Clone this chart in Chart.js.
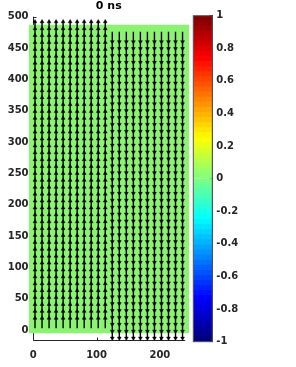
<!DOCTYPE html>
<html><head><meta charset="utf-8">
<script src="https://cdn.jsdelivr.net/npm/chart.js@4.4.0/dist/chart.umd.min.js"></script>
<style>
html,body{margin:0;padding:0;background:#fff;}
#wrap{position:relative;width:296px;height:367px;overflow:hidden;}
canvas{position:absolute;left:0;top:0;}
</style></head><body>
<div id="wrap"><canvas id="main" width="296" height="367"></canvas><canvas id="cbar" width="296" height="367"></canvas></div>
<script>
// ---- data ----
const titleText = '0 ns';
const xCols = [2.7, 13.8, 24.9, 36.0, 47.1, 58.2, 69.3, 80.4, 91.5, 102.6, 113.7,
               124.8, 135.9, 147.0, 158.1, 169.2, 180.3, 191.4, 202.5, 213.6, 224.7, 235.8];
const yRows = [3, 14, 25, 36, 47, 58, 69, 80, 91, 102, 113, 124, 135, 146, 157, 168, 179, 190,
               201, 212, 223, 234, 245, 256, 267, 278, 289, 300, 311, 322, 333, 344, 355, 366,
               377, 388, 399, 410, 421, 432, 443, 454, 465, 476];
const vComp = [1, 1, 1, 1, 1, 1, 1, 1, 1, 1, 1,
               -1, -1, -1, -1, -1, -1, -1, -1, -1, -1, -1];
const arrowLen = 16;
const fieldX = [-7.5, 246];
const fieldY = [-5, 487];
const xAxisRange = [0, 240];
const yAxisRange = [-17.5, 500];
const xTicks = [0, 100, 200];
const yTicks = [0, 50, 100, 150, 200, 250, 300, 350, 400, 450, 500];
const cbTicks = [1, 0.8, 0.6, 0.4, 0.2, 0, -0.2, -0.4, -0.6, -0.8, -1];
const cbLabels = ['1', '0.8', '0.6', '0.4', '0.2', '0', '-0.2', '-0.4', '-0.6', '-0.8', '-1'];
const cbLevels = 64;

// ---- styles ----
const FAM = "'DejaVu Sans', sans-serif";
const TICKFONT = {family: FAM, weight: 'bold', size: 10};
const AX = '#262626';
const fieldColor = '#8cf272';

function clamp(v) { return Math.max(0, Math.min(1, v)); }
function jet(t) {
  const r = clamp(1.5 - Math.abs(4 * t - 3));
  const g = clamp(1.5 - Math.abs(4 * t - 2));
  const b = clamp(1.5 - Math.abs(4 * t - 1));
  return 'rgb(' + Math.round(r * 255) + ',' + Math.round(g * 255) + ',' + Math.round(b * 255) + ')';
}

// ---- main chart ----
const datasets = [];
xCols.forEach((x, j) => {
  const v = vComp[j];
  const pts = [];
  yRows.forEach(y => {
    pts.push({x: x, y: y});
    pts.push({x: x, y: y + v * arrowLen});
    pts.push({x: x, y: null});
  });
  datasets.push({
    type: 'line', data: pts, order: 0,
    borderColor: '#000', borderWidth: 1.4, fill: false, tension: 0, spanGaps: false,
    pointStyle: 'triangle', rotation: v > 0 ? 0 : 180,
    pointRadius: c => (c.dataIndex % 3 === 1 ? 2.2 : 0),
    pointBackgroundColor: '#000', pointBorderColor: '#000', pointBorderWidth: 0.5,
    clip: false
  });
});
datasets.push({
  type: 'line', order: 1,
  data: [{x: fieldX[0], y: fieldY[1]}, {x: fieldX[1], y: fieldY[1]}],
  fill: {value: fieldY[0]}, backgroundColor: fieldColor, borderWidth: 0, pointRadius: 0, clip: false
});

// MATLAB-style axis lines (box off, inward ticks) drawn at the data origin, under the data
const axesPlugin = {id: 'matlabAxes', beforeDatasetsDraw(c) {
  const xs = c.scales.x, ys = c.scales.y, ctx = c.ctx;
  const x0 = Math.round(xs.getPixelForValue(xAxisRange[0])) + 0.5;
  const x1 = xs.getPixelForValue(xAxisRange[1]);
  const yb = Math.round(ys.getPixelForValue(yAxisRange[0])) - 0.5;
  const yt = ys.getPixelForValue(yAxisRange[1]);
  ctx.save();
  ctx.strokeStyle = AX; ctx.lineWidth = 1;
  ctx.beginPath();
  ctx.moveTo(x0, yt); ctx.lineTo(x0, yb); ctx.lineTo(x1, yb);
  yTicks.forEach(v => { const p = Math.round(ys.getPixelForValue(v)) + 0.5; ctx.moveTo(x0, p); ctx.lineTo(x0 + 3, p); });
  xTicks.forEach(v => { const p = Math.round(xs.getPixelForValue(v)) + 0.5; ctx.moveTo(p, yb); ctx.lineTo(p, yb - 3); });
  ctx.stroke();
  ctx.restore();
}};

const noGrid = {drawOnChartArea: false, drawTicks: false};

new Chart(document.getElementById('main'), {
  type: 'line',
  data: {datasets: datasets},
  options: {
    responsive: false, animation: false, events: [],
    layout: {padding: {left: 0, right: 107, top: 0, bottom: 0}},
    plugins: {
      legend: {display: false}, tooltip: {enabled: false},
      title: {display: true, text: titleText, fullSize: false, color: '#000',
              font: {family: FAM, weight: 'bold', size: 11, lineHeight: 1.2},
              padding: {top: 0, bottom: 3.5}}
    },
    scales: {
      x: {type: 'linear', min: fieldX[0], max: fieldX[1],
        afterBuildTicks: s => { s.ticks = xTicks.map(v => ({value: v})); },
        afterFit: s => { s.height = 26; },
        grid: noGrid, border: {display: false},
        ticks: {font: TICKFONT, color: AX, padding: 8, maxRotation: 0, autoSkip: false,
                callback: v => String(v)}},
      y: {type: 'linear', min: yAxisRange[0], max: yAxisRange[1],
        afterBuildTicks: s => { s.ticks = yTicks.map(v => ({value: v})); },
        afterFit: s => { s.width = 28.55; },
        grid: noGrid, border: {display: false},
        ticks: {font: TICKFONT, color: AX, padding: 0, autoSkip: false,
                callback: v => String(v)}}
    }
  },
  plugins: [axesPlugin]
});

// ---- colorbar ----
const cbSets = [];
for (let i = 0; i < cbLevels; i++) {
  const lo = -1 + i * 2 / cbLevels;
  const hi = -1 + (i + 1) * 2 / cbLevels;
  cbSets.push({type: 'bar', data: [[lo, hi]], backgroundColor: jet(i / (cbLevels - 1)),
    borderWidth: 0, barPercentage: 1, categoryPercentage: 1, grouped: false, inflateAmount: 0.5});
}
new Chart(document.getElementById('cbar'), {
  type: 'bar',
  data: {labels: [''], datasets: cbSets},
  options: {
    responsive: false, animation: false, events: [],
    layout: {padding: {left: 193.3, right: 0, top: 15.7, bottom: 367 - 341.7}},
    plugins: {legend: {display: false}, tooltip: {enabled: false}, title: {display: false}},
    scales: {
      x: {type: 'category', display: false},
      y: {type: 'linear', position: 'right', min: -1, max: 1, z: 1,
        afterBuildTicks: s => { s.ticks = cbTicks.map(v => ({value: v})); },
        afterFit: s => { s.width = 296 - 212.3; },
        grid: {drawOnChartArea: false, drawTicks: true, tickLength: -3, color: AX, lineWidth: 1},
        border: {display: true, color: AX, width: 1},
        ticks: {font: TICKFONT, color: AX, padding: 7, autoSkip: false,
                callback: (v, i) => cbLabels[i]}}
    }
  },
  plugins: [{id: 'cbframe', afterDraw(c) {
    const a = c.chartArea, ctx = c.ctx;
    ctx.save(); ctx.strokeStyle = '#555'; ctx.lineWidth = 1;
    ctx.strokeRect(a.left, a.top, a.right - a.left, a.bottom - a.top);
    ctx.restore();
  }}]
});
</script>
</body></html>
